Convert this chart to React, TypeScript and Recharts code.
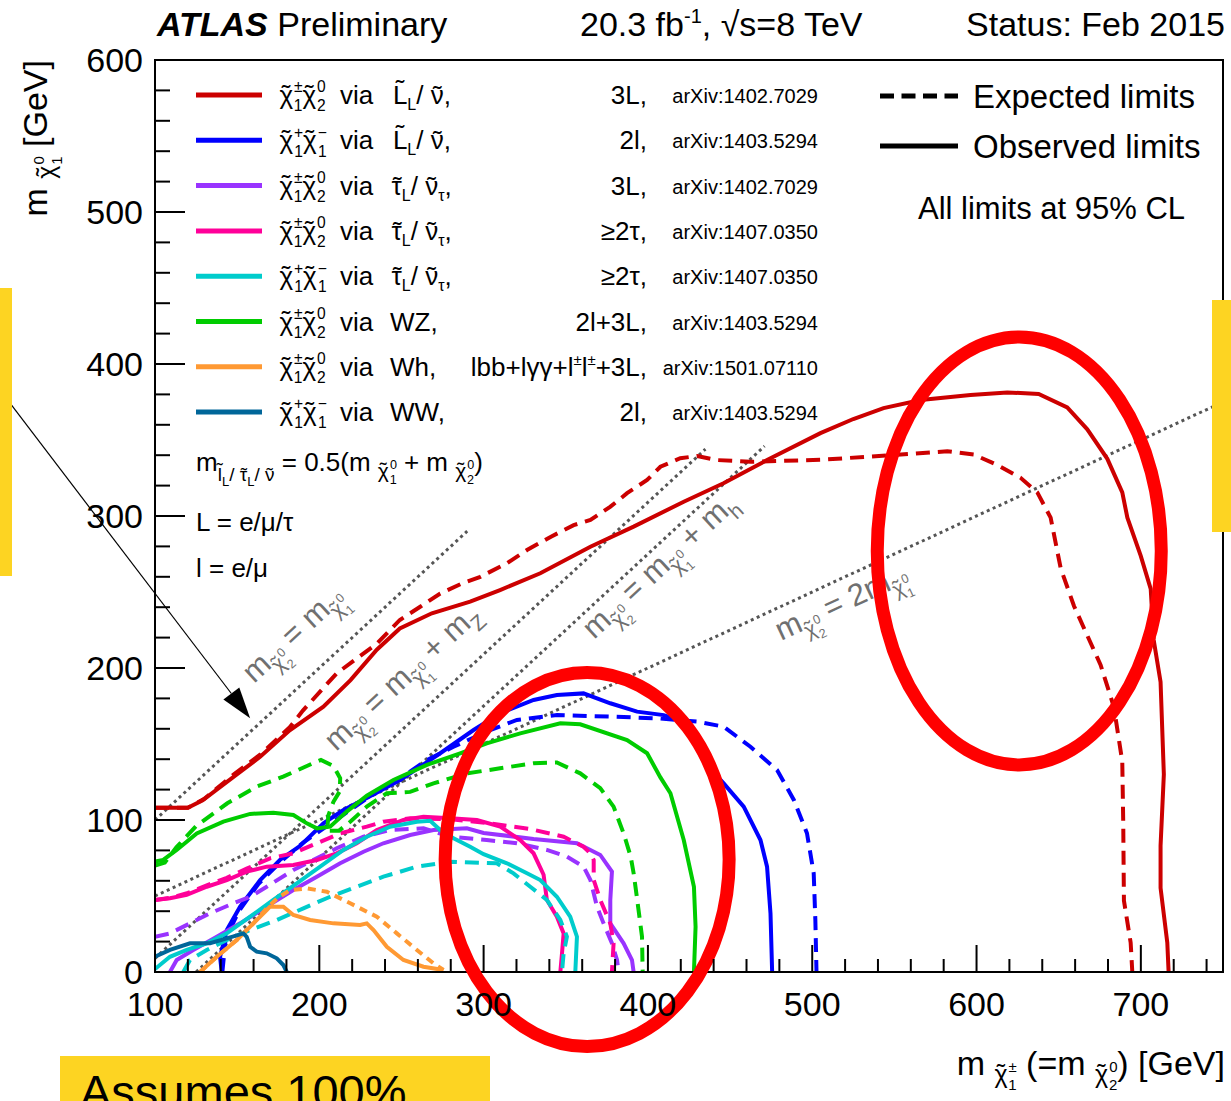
import React from 'react';
import { LineChart, Line, XAxis, YAxis, ReferenceLine, ReferenceArea, ReferenceDot } from 'recharts';

const FONT = '"Liberation Sans", Arial, Helvetica, sans-serif';
const TILDE = '\u02DC';

// ---------- data (x = m chargino/neutralino2, y = m neutralino1) ----------
const redObs = [[100,108],[120,108],[129,113],[148,128.5],[164,141.6],[182,159],[202.5,174.5],[219,192],[235,212],[249,226],[268.5,236],[291.8,243.6],[310,251.3],[334.5,262.3],[365,279.8],[391.3,293],[421.8,309.4],[446,321.5],[472.5,336.8],[505,354.5],[525,363.8],[543.4,371],[566,376.3],[596.3,379.6],[618.7,381.3],[637.8,380.3],[655.2,371.4],[667.4,357],[679.6,337.6],[688.7,315.5],[691.8,298.9],[699.9,273.9],[706,252],[707.8,218.6],[712,190.9],[714,130],[712,83],[712,55.3],[716.1,19.3],[716.9,0]];
const redExp = [[100,108],[120,108],[130,114],[148,130],[164,143],[182,161],[190,172],[210.6,196.5],[235,216],[249,231.6],[261.4,240.3],[273.6,249],[287.7,256],[298,260],[314.2,268.9],[326.4,277.6],[341,286.4],[354.8,294],[365,297.4],[377,306],[387.3,315],[399.5,323.7],[407.6,332.4],[419.7,338],[430,339.5],[442,336.8],[462.4,335.7],[505,337],[545.6,339.8],[582.2,342.6],[598.4,340.4],[612.6,333.6],[626.8,325.1],[637,315.5],[645.1,298.9],[651.2,265.7],[659.3,240.8],[667.4,221.4],[675.5,202],[683.6,174.3],[688.7,138.4],[689.3,96.8],[689.7,47],[693.8,19.3],[694.8,0]];
const blueObs = [[140.6,0],[139.6,10],[143.7,27.6],[151.8,43],[164,60.5],[176,73.7],[188.3,83],[202.5,97.8],[214.7,106.6],[228.9,114.5],[249.2,126.3],[273.6,143.9],[293.9,159.2],[310.1,170.2],[330.4,179],[344.6,182.2],[360.8,183.3],[377.1,176.8],[393.4,171.3],[409.6,169],[421.8,164.7],[434,138.4],[446.1,124.1],[458.3,108.8],[468.5,86.8],[472.5,69.3],[474.6,38.6],[475.6,0]];
const blueExp = [[141,0],[143,22],[151,40],[163,58],[176,72],[190,85],[210,100],[230,115],[250,128],[265.5,139.5],[281.7,148.2],[304,159.2],[320.3,165.8],[344.6,169],[377,168],[405.5,166.9],[429.9,164.7],[446.1,161.4],[462.4,148.2],[478.6,132.9],[488.8,113.2],[496.8,91.3],[500.9,64.9],[501.9,34.2],[502.6,0]];
const purpleObs = [[109.1,0],[113.2,7.9],[123.3,14.5],[137.6,23.2],[151.8,32],[168,43],[184.2,53.9],[198.5,62.7],[212.7,71.5],[226.9,79.1],[239,84.7],[255.3,90.1],[269.5,93.4],[289.8,94.5],[300,91.5],[330.4,87.5],[356.8,84.7],[371,77],[378.1,66],[377.1,47.4],[377.1,32],[385.2,18.9],[390.3,7.9],[391.3,0]];
const purpleExp = [[100,23.2],[109.1,25.4],[121.3,32],[133.5,38.6],[147.7,45.2],[157.9,49.5],[168,56.1],[184.2,67.1],[200.5,75.9],[210.6,81.4],[226.9,89],[243.1,93.4],[263.4,94.5],[279.7,89],[301.9,86.8],[320.3,84.7],[338.5,80.3],[350.7,75.9],[360.8,69.3],[365,60.5],[369,43],[373,32],[378.1,18.9],[381.2,7.9],[382.1,0]];
const magentaObs = [[100,47.4],[109.1,48.5],[119.3,50.7],[131.5,56.1],[143.7,60.5],[155.8,66],[168,69.3],[184.2,70.4],[198.5,73.7],[210.6,78.1],[222.8,84.7],[235,93.4],[251.2,100],[263.4,102.2],[279.7,101.1],[295.9,100],[310.1,95.6],[322.3,86.8],[330.4,78.1],[336.5,64],[338.5,47.4],[344.6,36.4],[348.7,25.4],[347.7,12.3],[346.7,0]];
const magentaExp = [[100,47.4],[110,49],[120,52],[131.5,57],[143.7,62],[155.8,68],[170,74.8],[184.2,78.1],[198.5,84.7],[212.7,91.2],[228.9,95.6],[239,98.9],[255.3,101.1],[280,100.5],[304,97.8],[328.4,94],[348.7,89],[360.8,82.4],[365,78],[367,73.7],[367,60.5],[371,47.4],[377.1,32],[379.1,18.9],[378.1,0]];
const cyanObs = [[100,2],[109.1,10],[119.3,14.5],[131.5,18.9],[143.7,25.4],[157.9,36.4],[172,47.4],[186.3,58.3],[200.5,69.3],[214.7,80.3],[228.9,89],[243.1,95.6],[259.4,98.9],[267.5,99.5],[273.6,93.4],[281.7,88],[291.8,82.4],[300,77.5],[314.2,71.5],[326.4,65],[334.5,60.5],[344.6,49.5],[352.7,36.4],[356.8,23.2],[355.8,0]];
const cyanExp = [[117.2,0],[121.3,7.9],[131.5,14.5],[143.7,21.1],[157.9,27.6],[174.1,34.2],[190.3,41.9],[206.6,49.5],[222.8,56.1],[239,62.7],[259.4,69.3],[279.7,72.6],[308,71.5],[318.2,64.9],[328.4,56.1],[338.5,47.4],[346.7,34.2],[350.7,23.2],[348.7,12.3],[347.7,0]];
const greenObs = [[100,72.6],[105,73.7],[113.2,80.3],[125.4,91.2],[141.6,98.9],[157.9,104],[172,104.8],[184.2,103.3],[192.4,97.8],[198.5,94.5],[206.6,95.6],[216.7,105.5],[228.9,116],[245.1,126.3],[265.5,136.2],[285.7,143.9],[301.9,150.4],[322.3,157],[346.7,163.6],[358.8,163],[387.3,152.6],[399.5,143.9],[407.6,128],[413.7,117.6],[421.8,86.8],[428,56.1],[429,29.8],[428,0]];
const greenExp = [[100,70],[106,72],[113,82],[125,96],[144,111],[162,122],[178,128.5],[196,137.3],[201,139.5],[208.6,135.5],[212.7,127.5],[212.5,119],[208.6,112],[205.5,103],[204.8,93],[212,93],[219,99],[228.9,108.8],[241.1,117.6],[255.3,118.5],[269.5,124.1],[289.8,130.7],[310,134],[330.4,137.3],[344.6,137.8],[358.8,130.7],[371,121],[379.1,108.8],[385.2,91.2],[389.5,76],[391.3,65],[393.5,47.4],[396.4,23.2],[396.8,0]];
const orangeObs = [[127.4,0],[137.6,10],[149.8,21.1],[159.9,32],[168,40.8],[170,43],[178.1,43],[184.2,37.5],[194.4,34.2],[208.6,32],[224.8,30.9],[228.9,32],[233,27.6],[241.1,16.6],[251.2,7.9],[263.4,3.5],[275.6,1.3]];
const orangeExp = [[127.4,0],[137.6,10],[149.8,21.1],[159.9,32],[168,42],[175,49],[182.2,53.9],[192.4,55],[204.6,52.8],[218.8,45.2],[235,36.4],[247.2,25.4],[259.4,14.5],[269.5,5.7],[275.6,1.3]];
const wwObs = [[100,10],[109.1,14.5],[121.3,18.9],[133.5,18.9],[143.7,22.1],[153.8,25.4],[155.8,23.2],[157.9,16.6],[161.9,13.4],[168,12.3],[174.1,9],[178.1,4.6],[180.2,0]];

// kinematic reference lines (end points)
const diagStart = [[100,100],[100,9],[125,0],[100,50]];
const diagEnd = [[290,290],[435,344],[471,346],[750,375]];

// axis ticks
const xTicks = [100,120,140,160,180,200,220,240,260,280,300,320,340,360,380,400,420,440,460,480,500,520,540,560,580,600,620,640,660,680,700,720,740];
const yTicks = [0,20,40,60,80,100,120,140,160,180,200,220,240,260,280,300,320,340,360,380,400,420,440,460,480,500,520,540,560,580,600];

// legend
const legendColors = ['#cc0000','#0000ff','#9933ff','#ff0099','#00cccc','#00cc00','#ff9933','#006699'];
const legendPair = ['pm0','pm','pm0','pm0','pm','pm0','pm0','pm'];
const legendDecay = ['L','L','tau','tau','tau','WZ,','Wh,','WW,'];
const legendChannel = ['3L,','2l,','3L,','\u22652\u03C4,','\u22652\u03C4,','2l+3L,','lbb+l\u03B3\u03B3+l\u00B1l\u00B1+3L,','2l,'];
const legendRef = ['arXiv:1402.7029','arXiv:1403.5294','arXiv:1402.7029','arXiv:1407.0350','arXiv:1407.0350','arXiv:1403.5294','arXiv:1501.07110','arXiv:1403.5294'];

// annotation marks (centres, in data units)
const annotCentres = [[363,74],[626,277]];
const arrowFrom = [10.5, 376];
const arrowTo = [157.9, 167];

const toPts = (a: number[][]) => a.map(([x, y]) => ({ x, y }));

const series = [
  { d: redExp, c: legendColors[0], dash: '14 8' },
  { d: redObs, c: legendColors[0] },
  { d: blueExp, c: legendColors[1], dash: '14 8' },
  { d: blueObs, c: legendColors[1] },
  { d: purpleExp, c: legendColors[2], dash: '14 8' },
  { d: purpleObs, c: legendColors[2] },
  { d: magentaExp, c: legendColors[3], dash: '14 8' },
  { d: magentaObs, c: legendColors[3] },
  { d: cyanExp, c: legendColors[4], dash: '14 8' },
  { d: cyanObs, c: legendColors[4] },
  { d: greenExp, c: legendColors[5], dash: '14 8' },
  { d: greenObs, c: legendColors[5] },
  { d: orangeExp, c: legendColors[6], dash: '8 6' },
  { d: orangeObs, c: legendColors[6] },
  { d: wwObs, c: legendColors[7] },
];

type Part = { t: string; s: number; o?: number; dx?: number; w?: string; i?: boolean };

function Rich({ x, y, parts, anchor = 'start', fill = '#000', rotate }: { x: number; y: number; parts: Part[]; anchor?: string; fill?: string; rotate?: number }) {
  let prev = 0;
  return (
    <text x={x} y={y} textAnchor={anchor as any} fill={fill} fontFamily={FONT} style={{ whiteSpace: 'pre' }}
      transform={rotate ? `rotate(${rotate} ${x} ${y})` : undefined}>
      {parts.map((p, i) => {
        const o = p.o || 0;
        const dy = o - prev;
        prev = o;
        return (
          <tspan key={i} fontSize={p.s} dy={dy} dx={p.dx || 0} fontWeight={p.w} fontStyle={p.i ? 'italic' : undefined}>{p.t}</tspan>
        );
      })}
    </text>
  );
}

// glyph with a tilde drawn above it (w = glyph advance in em)
const tl = (ch: string, s: number, o: number, w: number, lift = 0): Part[] => [
  { t: TILDE, s, o: o - lift, dx: ((w - 0.333) * s) / 2 },
  { t: ch, s, o, dx: (-(w + 0.333) * s) / 2 },
];

const chi = (s: number, sup: string, sub: string, base = 0): Part[] => {
  const ss = s * 0.6;
  return [
    ...tl('\u03C7', s, base, 0.52, s * 0.05),
    { t: sup, s: ss, o: base - s * 0.45, dx: 1 },
    { t: sub, s: ss, o: base + s * 0.28, dx: -ss * 0.57 },
  ];
};

const pairParts = (k: string): Part[] =>
  k === 'pm0' ? [...chi(26, '\u00B1', '1'), ...chi(26, '0', '2')] : [...chi(26, '+', '1'), ...chi(26, '\u2212', '1')];

const decayParts = (k: string): Part[] => {
  if (k === 'L') return [...tl('L', 26, 0, 0.556, 6), { t: 'L', s: 16, o: 6 }, { t: '/ ', s: 26, o: 0 }, ...tl('\u03BD', 26, 0, 0.5), { t: ',', s: 26, o: 0 }];
  if (k === 'tau') return [...tl('\u03C4', 26, 0, 0.45), { t: 'L', s: 16, o: 6 }, { t: '/ ', s: 26, o: 0 }, ...tl('\u03BD', 26, 0, 0.5), { t: '\u03C4', s: 16, o: 6 }, { t: ',', s: 26, o: 0 }];
  return [{ t: k, s: 26 }];
};

const channelParts = (k: string): Part[] => {
  const segs = k.split('\u00B1');
  const out: Part[] = [];
  segs.forEach((sg, i) => {
    if (i > 0) out.push({ t: '\u00B1', s: 15, o: -11 });
    out.push({ t: sg, s: 26, o: 0 });
  });
  return out;
};

const XTick = (p: any) => {
  const v = p.payload.value;
  const major = v % 100 === 0;
  return (
    <g>
      <line x1={p.x} y1={p.y} x2={p.x} y2={p.y - (major ? 27 : 13)} stroke="#000" strokeWidth={2} />
      {major && v <= 700 && (
        <text x={p.x} y={p.y + 44} textAnchor="middle" fontSize={34} fontFamily={FONT} fill="#000">{v}</text>
      )}
    </g>
  );
};

const YTick = (p: any) => {
  const v = p.payload.value;
  const major = v % 100 === 0;
  return (
    <g>
      <line x1={p.x} y1={p.y} x2={p.x + (major ? 30 : 15)} y2={p.y} stroke="#000" strokeWidth={2} />
      {major && (
        <text x={p.x - 12} y={p.y + 12} textAnchor="end" fontSize={34} fontFamily={FONT} fill="#000">{v}</text>
      )}
    </g>
  );
};

const ArrowShape = (p: any) => {
  const { x1, y1, x2, y2 } = p;
  const ang = Math.atan2(y2 - y1, x2 - x1);
  const L = 31, W = 10;
  const bx = x2 - L * Math.cos(ang), by = y2 - L * Math.sin(ang);
  const px = -Math.sin(ang) * W, py = Math.cos(ang) * W;
  return (
    <g>
      <line x1={x1} y1={y1} x2={bx} y2={by} stroke="#000" strokeWidth={1.2} />
      <polygon points={`${x2},${y2} ${bx + px},${by + py} ${bx - px},${by - py}`} fill="#000" />
    </g>
  );
};

const ellipseSizes = [[142, 187], [142, 214]];

const GRAY = '#707070';
const LS = 31, LC = 21;
const lblA: Part[] = [{ t: 'm', s: LS }, ...chi(LC, '0', '2', 9), { t: ' = m', s: LS, o: 0 }, ...chi(LC, '0', '1', 9)];
const lblZ: Part[] = [...lblA, { t: ' + m', s: LS, o: 0 }, { t: 'Z', s: LC, o: 9 }];
const lblH: Part[] = [...lblA, { t: ' + m', s: LS, o: 0 }, { t: 'h', s: LC, o: 9 }];
const lbl2: Part[] = [{ t: 'm', s: LS }, ...chi(LC, '0', '2', 9), { t: ' = 2m', s: LS, o: 0 }, ...chi(LC, '0', '1', 9)];

function Overlay() {
  return (
    <svg width={1231} height={1101} style={{ position: 'absolute', left: 0, top: 0 }}>
      {/* header */}
      <Rich x={157} y={36} parts={[{ t: 'ATLAS', s: 34, w: 'bold', i: true }, { t: ' Preliminary', s: 34 }]} />
      <Rich x={580} y={36} parts={[{ t: '20.3 fb', s: 34 }, { t: '-1', s: 20, o: -13 }, { t: ', \u221As=8 TeV', s: 34, o: 0 }]} />
      <Rich x={1225} y={36} anchor="end" parts={[{ t: 'Status: Feb 2015', s: 34 }]} />
      {/* axis titles */}
      <Rich x={47} y={60} anchor="end" rotate={-90} parts={[{ t: 'm ', s: 34 }, ...chi(25, '0', '1', 8), { t: ' [GeV]', s: 34, o: 0 }]} />
      <Rich x={1225} y={1075} anchor="end" parts={[{ t: 'm ', s: 34 }, ...chi(25, '\u00B1', '1', 8), { t: ' (=m ', s: 34, o: 0 }, ...chi(25, '0', '2', 8), { t: ') [GeV]', s: 34, o: 0 }]} />
      {/* legend */}
      {legendColors.map((c, i) => {
        const cy = 95 + i * 45.3;
        return (
          <g key={i}>
            <line x1={196} x2={262} y1={cy} y2={cy} stroke={c} strokeWidth={5} />
            <Rich x={277} y={cy + 9} parts={pairParts(legendPair[i])} />
            <text x={340} y={cy + 9} fontSize={26} fontFamily={FONT}>via</text>
            <Rich x={390} y={cy + 9} parts={decayParts(legendDecay[i])} />
            <Rich x={647} y={cy + 9} anchor="end" parts={channelParts(legendChannel[i])} />
            <text x={818} y={cy + 8} fontSize={20} fontFamily={FONT} textAnchor="end">{legendRef[i]}</text>
          </g>
        );
      })}
      <Rich x={196} y={471} parts={[
        { t: 'm', s: 26 },
        ...tl('l', 19, 10, 0.222, 5), { t: 'L', s: 13, o: 15 }, { t: '/ ', s: 19, o: 10 },
        ...tl('\u03C4', 19, 10, 0.45), { t: 'L', s: 13, o: 15 }, { t: '/ ', s: 19, o: 10 },
        ...tl('\u03BD', 19, 10, 0.5),
        { t: ' = 0.5(m ', s: 26, o: 0 }, ...chi(21, '0', '1', 7), { t: ' + m ', s: 26, o: 0 }, ...chi(21, '0', '2', 7), { t: ')', s: 26, o: 0 },
      ]} />
      <Rich x={196} y={531} parts={[{ t: 'L = e/\u03BC/\u03C4', s: 26 }]} />
      <Rich x={196} y={577} parts={[{ t: 'l = e/\u03BC', s: 26 }]} />
      {/* right legend */}
      <line x1={880} x2={958} y1={96} y2={96} stroke="#000" strokeWidth={5} strokeDasharray="14 7.5" />
      <text x={973} y={108} fontSize={33} fontFamily={FONT}>Expected limits</text>
      <line x1={880} x2={958} y1={146} y2={146} stroke="#000" strokeWidth={5} />
      <text x={973} y={158} fontSize={33} fontFamily={FONT}>Observed limits</text>
      <text x={918} y={219} fontSize={31} fontFamily={FONT}>All limits at 95% CL</text>
      {/* kinematic line labels */}
      <Rich x={254} y={684} rotate={-42.8} fill={GRAY} parts={lblA} />
      <Rich x={336} y={752} rotate={-42.8} fill={GRAY} parts={lblZ} />
      <Rich x={594} y={640} rotate={-42.8} fill={GRAY} parts={lblH} />
      <Rich x={781} y={641} rotate={-24.8} fill={GRAY} parts={lbl2} />
    </svg>
  );
}

export default function App() {
  return (
    <div style={{ position: 'absolute', left: 0, top: 0, width: 1231, height: 1101, overflow: 'hidden', background: '#fff', fontFamily: FONT }}>
      <Overlay />
      <div style={{ position: 'absolute', left: 0, top: 0 }}>
        <LineChart width={1231} height={1101} margin={{ top: 60, right: 8, bottom: 99, left: 75 }}>
          <XAxis type="number" dataKey="x" domain={[100, 750]} allowDataOverflow ticks={xTicks} interval={0}
            tick={<XTick />} tickSize={0} tickMargin={0} axisLine={{ stroke: '#000', strokeWidth: 2 }} tickLine={false} height={30} />
          <YAxis type="number" dataKey="y" domain={[0, 600]} allowDataOverflow ticks={yTicks} interval={0}
            tick={<YTick />} tickSize={0} tickMargin={0} axisLine={{ stroke: '#000', strokeWidth: 2 }} tickLine={false} width={80} />
          <ReferenceArea x1={100} x2={750} y1={0} y2={600} fill="none" stroke="#000" strokeWidth={2} ifOverflow="visible" />
          {diagStart.map((s, i) => (
            <ReferenceLine key={'d' + i} segment={[{ x: s[0], y: s[1] }, { x: diagEnd[i][0], y: diagEnd[i][1] }]}
              stroke="#555" strokeWidth={3} strokeDasharray="3 3.5" ifOverflow="visible" />
          ))}
          {series.map((s, i) => (
            <Line key={i} data={toPts(s.d)} dataKey="y" type="linear" stroke={s.c} strokeWidth={4}
              strokeDasharray={s.dash} dot={false} activeDot={false} isAnimationActive={false} />
          ))}
          <ReferenceLine segment={[{ x: arrowFrom[0], y: arrowFrom[1] }, { x: arrowTo[0], y: arrowTo[1] }]} ifOverflow="visible"
            shape={(p: any) => <ArrowShape {...p} />} />
          {annotCentres.map((c, i) => (
            <ReferenceDot key={'e' + i} x={c[0]} y={c[1]} r={2} ifOverflow="visible"
              shape={(p: any) => <ellipse cx={p.cx} cy={p.cy} rx={ellipseSizes[i][0]} ry={ellipseSizes[i][1]} fill="none" stroke="#ff0000" strokeWidth={13} />} />
          ))}
        </LineChart>
      </div>
      <div style={{ position: 'absolute', left: 0, top: 288, width: 12, height: 288, background: '#fdd422' }} />
      <div style={{ position: 'absolute', left: 1212, top: 300, width: 19, height: 232, background: '#fdd422' }} />
      <div style={{ position: 'absolute', left: 60, top: 1056, width: 430, height: 60, background: '#fdd422', overflow: 'hidden' }}>
        <div style={{ position: 'absolute', left: 20, top: 8, fontSize: 47, fontFamily: FONT, color: '#000', whiteSpace: 'nowrap' }}>Assumes 100%</div>
      </div>
    </div>
  );
}
